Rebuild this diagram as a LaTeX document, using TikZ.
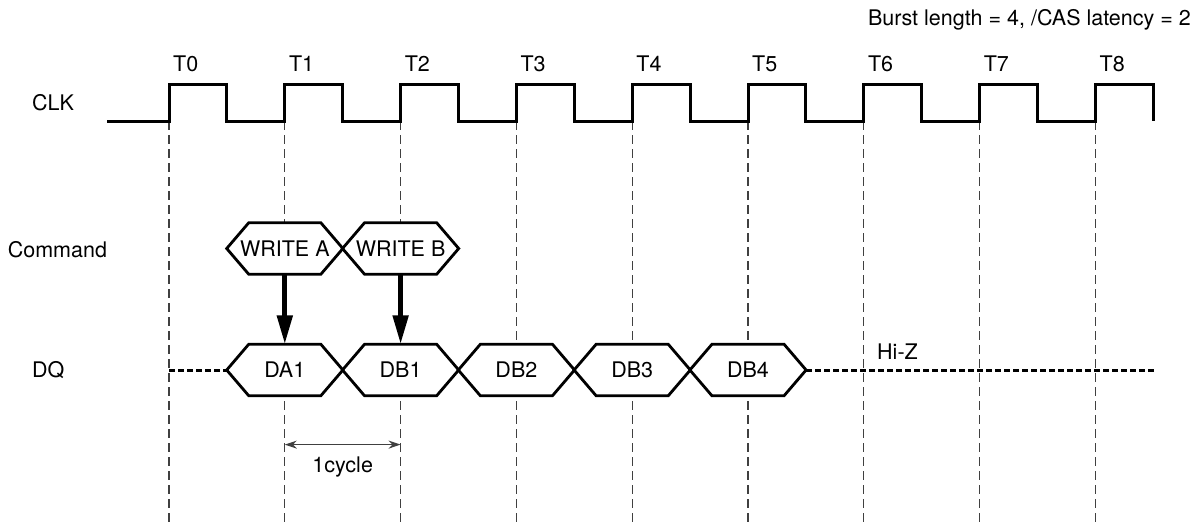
\documentclass[tikz,border=0pt]{standalone}
\usepackage{fontspec}
\setmainfont{TeX Gyre Heros}
\usetikzlibrary{arrows.meta, calc, positioning, backgrounds}

\tikzset{
  sig/.style={font=\fontsize{21.5}{25}\selectfont, inner sep=0pt},
  hexbox/.style={sig, minimum width=115.8pt, minimum height=51pt},
  hexline/.style={draw=black, fill=white, line width=2.8pt, line join=miter},
  wave/.style={line width=3pt, line join=miter},
  grid line/.style={draw=black!75, line width=1.3pt, dash pattern=on 9pt off 5pt},
  hiz/.style={line width=3pt, dash pattern=on 6pt off 3pt},
  cmdarrow/.style={line width=5pt, -{Triangle[length=29pt, width=15pt]}},
  cyclearrow/.style={draw=black!75, line width=1.6pt, {Stealth[length=12pt, width=8pt]}-{Stealth[length=12pt, width=8pt]}},
}

\begin{document}
\begin{tikzpicture}[x=1pt, y=-1pt]
  \useasboundingbox (0,0) rectangle (1199,525);

  % Rising edges and rows
  \foreach \k in {0,...,8}
    \coordinate (T\k) at ({169+115.8*\k},121);
  \coordinate (bottom) at (0,525);
  \coordinate (cmdrow) at (0,248.5);
  \coordinate (dqrow) at (0,370);
  \coordinate (cycrow) at (0,444.6);

  % Labels
  \node[sig, anchor=west] (clk) at (32,103) {CLK};
  \node[sig, anchor=west] (cmd) at (7.6,250) {Command};
  \node[sig, anchor=west] (dq) at (32,370) {DQ};
  \node[sig, anchor=east] (burst) at (1191,19.4) {Burst length = 4, /CAS latency = 2};
  \foreach \k in {0,...,8}
    \node[sig, anchor=west] (lt\k) at ([shift={(4,-57.4)}]T\k) {T\k};

  % Clock
  \draw[wave] (107,121) \foreach \k in {0,...,8} { -- (T\k) -- ++(0,-37) -- ++(57.9,0) -- ++(0,37) };

  % Dashed guides
  \begin{scope}[on background layer]
    \foreach \k in {0,...,8}
      \draw[grid line] (T\k) -- (T\k |- bottom);
  \end{scope}

  % Command and data words
  \foreach \n/\t/\k in {wa/WRITE A/1, wb/WRITE B/2}
    \node[hexbox] (\n) at (T\k |- cmdrow) {\t};
  \foreach \n/\t/\k in {da1/DA1/1, db1/DB1/2, db2/DB2/3, db3/DB3/4, db4/DB4/5}
    \node[hexbox] (\n) at (T\k |- dqrow) {\t};
  \begin{scope}[on background layer]
    \foreach \n in {wa, wb, da1, db1, db2, db3, db4}
      \filldraw[hexline] (\n.west) -- ([xshift=22pt]\n.north west) -- ([xshift=-22pt]\n.north east)
        -- (\n.east) -- ([xshift=-22pt]\n.south east) -- ([xshift=22pt]\n.south west) -- cycle;
  \end{scope}

  \draw[cmdarrow] (wa) -- (da1);
  \draw[cmdarrow] (wb) -- (db1);

  % High impedance
  \coordinate (dqstart) at (T0 |- dqrow);
  \coordinate (dqend) at (1154.5,370);
  \draw[hiz] (dqstart) -- (da1.west);
  \draw[hiz] (db4.east) -- (dqend);
  \node[sig, anchor=west] (hz) at (877,352) {Hi-Z};

  % One cycle
  \coordinate (c1) at (T1 |- cycrow);
  \coordinate (c2) at (T2 |- cycrow);
  \draw[cyclearrow] (c1) -- (c2);
  \node[sig] (cyc) at ($(c1)!0.5!(c2)+(0,22.5)$) {1cycle};
\end{tikzpicture}
\end{document}
